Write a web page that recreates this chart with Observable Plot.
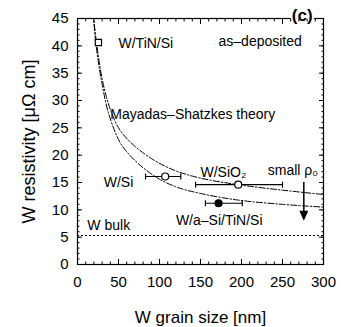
<!DOCTYPE html>
<html><head><meta charset="utf-8">
<script src="https://cdn.jsdelivr.net/npm/d3@7"></script>
<script src="https://cdn.jsdelivr.net/npm/@observablehq/plot@0.6"></script>
<style>body{margin:0;background:#fff}</style>
</head><body><div id="chart"></div>
<script>
// Mayadas–Shatzkes theory curves
const upperX = [19, 22, 25, 30, 35, 40, 50, 65, 90, 117, 150, 196, 250, 300];
const upperY = [46, 42, 38.5, 34, 30.8, 28.4, 25, 22.3, 19.4, 17.3, 15.8, 14.6, 13.6, 12.8];
const lowerX = [19, 22, 25, 30, 38, 52, 65, 80, 100, 122, 150, 195, 250, 300];
const lowerY = [46, 41, 37.5, 33, 27.6, 22.3, 19.8, 17.7, 15.6, 14.1, 13.0, 11.8, 11.0, 10.5];

// Measured samples
const sampleName = ["W/TiN/Si", "W/Si", "W/SiO2", "W/a-Si/TiN/Si"];
const sampleX    = [25.5, 107, 196, 172];
const sampleY    = [40.6, 16.1, 14.6, 11.2];
const sampleXmin = [null, 83, 144, 156];
const sampleXmax = [null, 126, 250, 201];
const sampleSymbol = ["square", "circle", "circle", "circle"];
const sampleFill   = ["white", "white", "white", "black"];

const bulkRho = 5.3;

// Arrow "small rho0"
const arrowX = 276, arrowTop = 15.0, arrowTip = 8.0;

// Annotations
const noteText = ["W/TiN/Si", "as–deposited", "Mayadas–Shatzkes theory", "W/Si", "W/SiO₂", "small ρ₀", "W/a–Si/TiN/Si", "W bulk"];
const noteX    = [50, 172, 40, 32, 150, 232, 120, 12];
const noteY    = [40.5, 40.8, 27.4, 15.0, 16.9, 17.2, 8.0, 7.1];

const xMajor = d3.range(0, 301, 50);
const xMinor = d3.range(0, 301, 10);
const yMajor = d3.range(0, 46, 5);
const yMinor = d3.range(0, 46, 1);

const upper = upperX.map((x, i) => ({x, y: upperY[i]}));
const lower = lowerX.map((x, i) => ({x, y: lowerY[i]}));
const samples = sampleName.map((n, i) => ({n, x: sampleX[i], y: sampleY[i], x1: sampleXmin[i], x2: sampleXmax[i], s: sampleSymbol[i], f: sampleFill[i]}));
const bars = samples.filter(d => d.x1 != null);
const notes = noteText.map((t, i) => ({t, x: noteX[i], y: noteY[i]}));

const vbar = {draw(c, size) { const r = Math.sqrt(size / Math.PI); c.moveTo(0, -r); c.lineTo(0, r); }};
const downTri = {draw(c, size) { const r = Math.sqrt(size / Math.PI); c.moveTo(-r * 0.45, -r); c.lineTo(r * 0.45, -r); c.lineTo(0, 0); c.closePath(); }};

const chart = Plot.plot({
  width: 341, height: 327,
  marginLeft: 77, marginRight: 18, marginTop: 18, marginBottom: 63,
  style: {fontFamily: "Liberation Sans, Arial, sans-serif", background: "white", color: "black"},
  x: {domain: [0, 300]},
  y: {domain: [0, 45]},
  marks: [
    Plot.ruleY([bulkRho], {stroke: "black", strokeWidth: 1, strokeDasharray: "2,2"}),
    Plot.line(upper, {x: "x", y: "y", curve: "catmull-rom", stroke: "black", strokeWidth: 1, strokeDasharray: "6,2,1.5,2", clip: true}),
    Plot.line(lower, {x: "x", y: "y", curve: "catmull-rom", stroke: "black", strokeWidth: 1, strokeDasharray: "6,2,1.5,2", clip: true}),
    Plot.link(bars, {x1: "x1", x2: "x2", y1: "y", y2: "y", stroke: "black", strokeWidth: 1.2}),
    Plot.dot(bars, {x: "x1", y: "y", symbol: vbar, r: 3, stroke: "black", strokeWidth: 1.2}),
    Plot.dot(bars, {x: "x2", y: "y", symbol: vbar, r: 3, stroke: "black", strokeWidth: 1.2}),
    Plot.dot(samples, {x: "x", y: "y", symbol: "s", fill: "f", stroke: "black", strokeWidth: 1.2, r: 3.5}),
    Plot.ruleX([arrowX], {y1: arrowTop, y2: arrowTip + 1.5, stroke: "black", strokeWidth: 1.5}),
    Plot.dot([arrowX], {x: d => d, y: arrowTip, symbol: downTri, r: 10, fill: "black", stroke: "none"}),
    Plot.text(notes, {x: "x", y: "y", text: "t", textAnchor: "start", fontSize: 14, fill: "black"}),
    Plot.frame({stroke: "black", strokeWidth: 1.2}),
    Plot.text(["(c)"], {x: 274, y: 45.5, text: d => d, fontSize: 17, fontWeight: "bold", fill: "black", stroke: "white", strokeWidth: 4, paintOrder: "stroke"}),
    // tick labels
    Plot.axisX(xMajor, {anchor: "bottom", tickSize: 0, tickPadding: 12, fontSize: 15, label: null}),
    Plot.axisY(yMajor, {anchor: "left", tickSize: 0, tickPadding: 9, fontSize: 15, label: null}),
    // inward ticks
    Plot.axisX(xMinor, {anchor: "bottom", tickSize: -2.5, text: null, label: null}),
    Plot.axisX(xMinor, {anchor: "top", tickSize: -2.5, text: null, label: null}),
    Plot.axisX(xMajor, {anchor: "bottom", tickSize: -5, text: null, label: null}),
    Plot.axisX(xMajor, {anchor: "top", tickSize: -5, text: null, label: null}),
    Plot.axisY(yMinor, {anchor: "left", tickSize: -2.5, text: null, label: null}),
    Plot.axisY(yMinor, {anchor: "right", tickSize: -2.5, text: null, label: null}),
    Plot.axisY(yMajor, {anchor: "left", tickSize: -5, text: null, label: null}),
    Plot.axisY(yMajor, {anchor: "right", tickSize: -5, text: null, label: null}),
    // axis titles
    Plot.text(["W grain size [nm]"], {frameAnchor: "bottom", dy: 53, textAnchor: "middle", lineAnchor: "middle", text: d => d, fontSize: 17, fill: "black"}),
    Plot.text(["W resistivity [μΩ cm]"], {frameAnchor: "left", dx: -48, textAnchor: "middle", lineAnchor: "middle", rotate: -90, text: d => d, fontSize: 18, fill: "black"})
  ]
});
document.getElementById("chart").appendChild(chart);
</script>
</body></html>
